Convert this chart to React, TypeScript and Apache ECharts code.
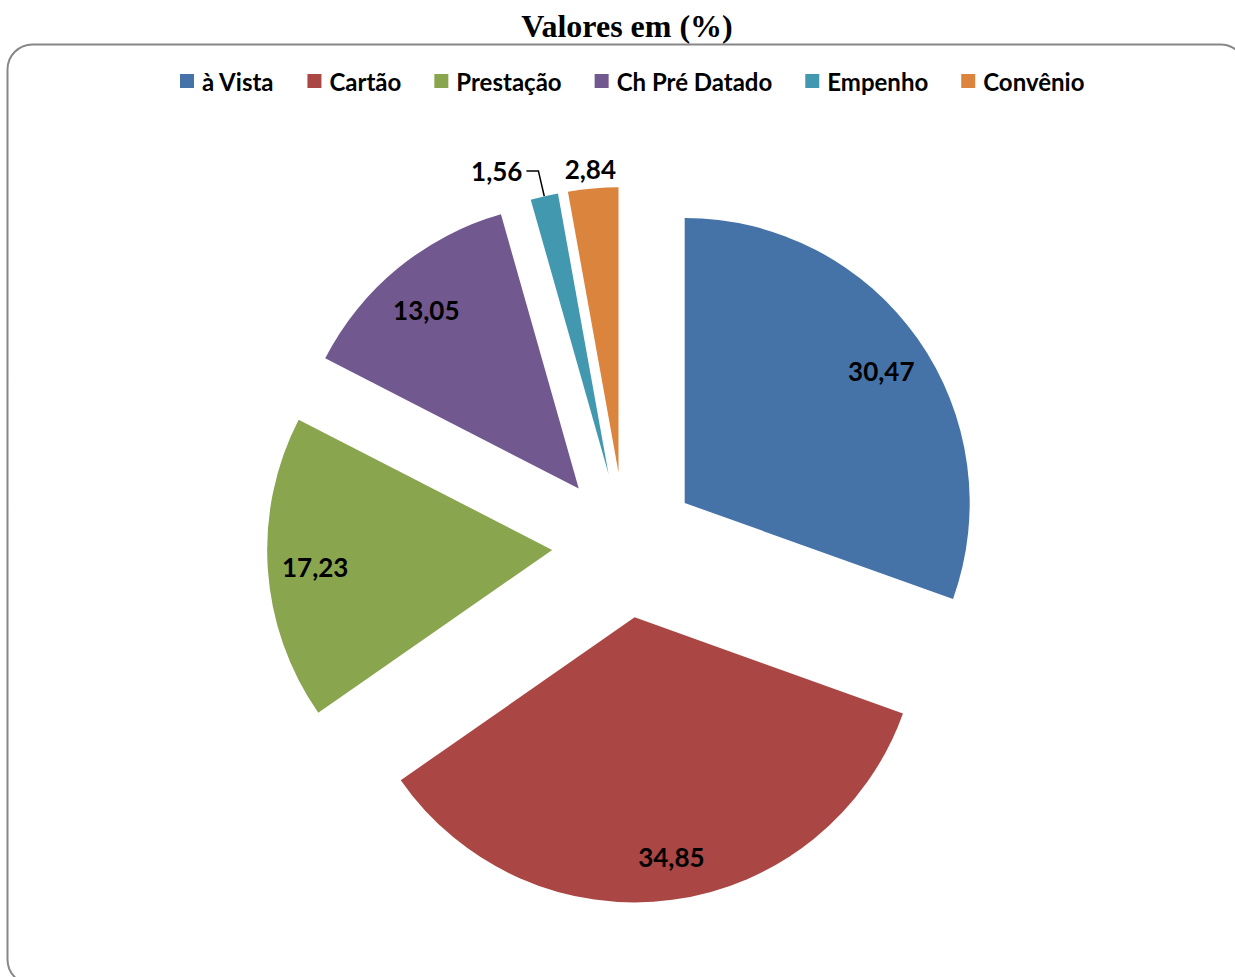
import React, { useEffect, useRef } from "react";
import * as echarts from "echarts";

const chartTitle = "Valores em (%)";
const categories = ["à Vista", "Cartão", "Prestação", "Ch Pré Datado", "Empenho", "Convênio"];
const values = [30.47, 34.85, 17.23, 13.05, 1.56, 2.84];
const colors = ["#4572A7", "#AA4643", "#89A54E", "#71588F", "#4198AF", "#DB843D"];
const outsideLabelNames = ["Empenho", "Convênio"];
const leaderLineNames = ["Empenho"];

const fmt = (v: number) => v.toFixed(2).replace(".", ",");
const SANS = "Lato, 'Open Sans', sans-serif";

export default function App() {
  const ref = useRef<HTMLDivElement>(null);
  useEffect(() => {
    if (!ref.current) return;
    const chart = echarts.init(ref.current, undefined, { renderer: "svg" });
    const center = [625, 545];
    const R = 285;
    const offset = 73;
    const labelFont = {
      fontFamily: SANS,
      fontWeight: "bold" as const,
      fontSize: 26,
      color: "#000",
    };
    chart.setOption({
      animation: false,
      backgroundColor: "#fff",
      graphic: [
        {
          type: "rect",
          z: -10,
          shape: { x: 7.5, y: 44.5, width: 1238, height: 940, r: 25 },
          style: { fill: "none", stroke: "#878787", lineWidth: 2 },
          silent: true,
        },
        {
          type: "text",
          x: 627,
          y: 26,
          style: {
            text: chartTitle,
            align: "center",
            verticalAlign: "middle",
            fontFamily: "'Liberation Serif', 'Times New Roman', serif",
            fontWeight: "bold",
            fontSize: 32,
            fill: "#000",
          },
          silent: true,
        },
      ],
      legend: {
        data: categories,
        left: 175,
        top: 64,
        itemWidth: 14,
        itemHeight: 14,
        itemGap: 33,
        icon: "rect",
        selectedMode: false,
        textStyle: {
          fontFamily: SANS,
          fontWeight: "bold",
          fontSize: 24,
          color: "#000",
          padding: [0, 0, 0, 3],
        },
      },
      series: [
        {
          type: "pie",
          center,
          radius: R,
          startAngle: 90,
          clockwise: true,
          selectedMode: "multiple",
          selectedOffset: offset,
          avoidLabelOverlap: false,
          emphasis: { disabled: true },
          label: { ...labelFont, formatter: (p: any) => fmt(p.value) },
          labelLayout: (p: any) =>
            p.dataIndex === categories.indexOf("Convênio")
              ? { dx: p.labelRect.width / 2 + 3 }
              : {},
          data: categories.map((n, i) => {
            const outside = outsideLabelNames.includes(n);
            const leader = leaderLineNames.includes(n);
            return {
              name: n,
              value: values[i],
              selected: true,
              itemStyle: { color: colors[i] },
              label: outside
                ? { show: true, position: "outside", distanceToLabelLine: 4 }
                : { show: false },
              labelLine: leader
                ? {
                    show: true,
                    length: 26,
                    length2: 12,
                    lineStyle: { color: "#000", width: 1.5 },
                  }
                : { show: false, length: 20, length2: 0 },
            };
          }),
        },
        {
          type: "pie",
          center,
          radius: [190, R],
          startAngle: 90,
          clockwise: true,
          selectedMode: "multiple",
          selectedOffset: offset,
          avoidLabelOverlap: false,
          silent: true,
          emphasis: { disabled: true },
          itemStyle: { color: "rgba(0,0,0,0)" },
          labelLine: { show: false },
          label: { ...labelFont, position: "inside", formatter: (p: any) => fmt(p.value) },
          labelLayout: (p: any) => ({
            dy: p.dataIndex === 0 || p.dataIndex === 3 ? 7 : 1,
            dx: p.dataIndex === 1 ? 5 : p.dataIndex === 2 ? 3 : 0,
          }),
          data: categories.map((n, i) => ({
            name: n,
            value: values[i],
            selected: true,
            label: { show: !outsideLabelNames.includes(n) },
          })),
        },
      ],
    });
    return () => chart.dispose();
  }, []);
  return (
    <div
      ref={ref}
      style={{ position: "fixed", left: 0, top: 0, width: 1235, height: 977 }}
    />
  );
}
